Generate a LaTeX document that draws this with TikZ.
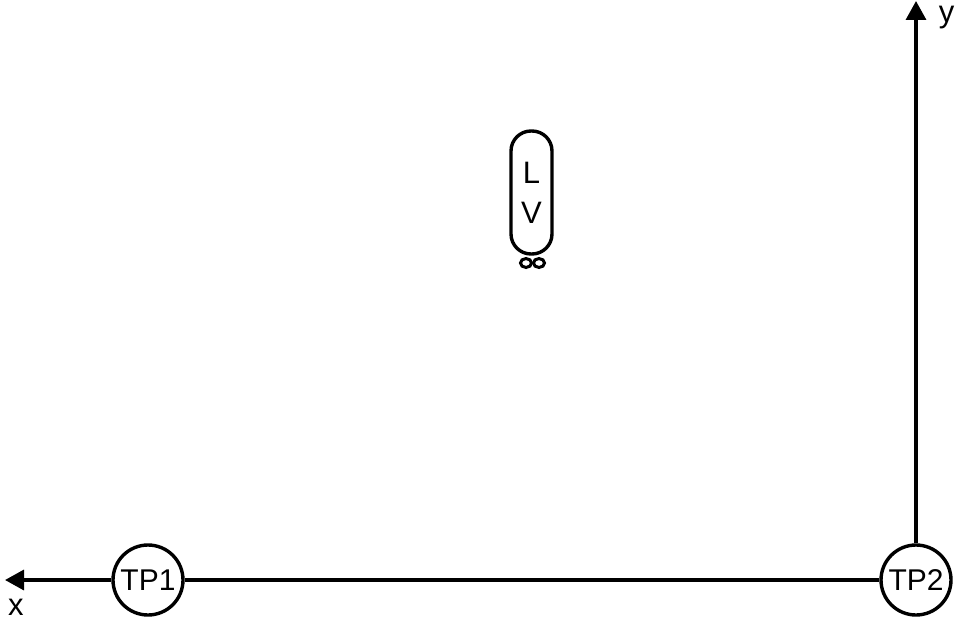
\documentclass[tikz,border=0pt]{standalone}
\usepackage{fontspec}
\setmainfont{Liberation Sans}
\usetikzlibrary{arrows.meta,shapes.geometric}
\tikzset{
  station/.style={circle,draw=black,line width=3.4pt,inner sep=0pt,minimum size=70pt,font=\fontsize{30}{31}\selectfont},
  axisline/.style={line width=3.4pt,draw=black},
  axisarrow/.style={axisline,-{Triangle[length=19pt,width=20pt]}},
  axislabel/.style={font=\fontsize{31}{32}\selectfont,inner sep=0pt},
  vehicle/.style={draw=black,line width=3.4pt,rectangle,rounded corners=20pt,minimum width=41pt,minimum height=123pt,inner sep=0pt,align=center,font=\fontsize{31}{40}\selectfont},
  wheel/.style={ellipse,draw=black,line width=3pt,inner sep=0pt,minimum width=11pt,minimum height=9pt}
}
\begin{document}
\begin{tikzpicture}[x=1pt,y=-1pt]
\useasboundingbox (0,0) rectangle (955,623);
\node[station] (tp1) at (148,580) {TP1};
\node[station] (tp2) at (916,580) {TP2};
\coordinate (xend) at (5,580);
\coordinate (yend) at (916,1);
\draw[axisline] (tp1) -- (tp2);
\draw[axisarrow] (tp1) -- (xend);
\draw[axisarrow] (tp2) -- (yend);
\node[axislabel] (xlabel) at (16,607) {x};
\node[axislabel] (ylabel) at (946.5,18) {y};
\node[vehicle] (lv) at (531.5,192.5) {L\\V};
\node[wheel] (w1) at (526,263) {};
\node[wheel] (w2) at (539,263) {};
\end{tikzpicture}
\end{document}
